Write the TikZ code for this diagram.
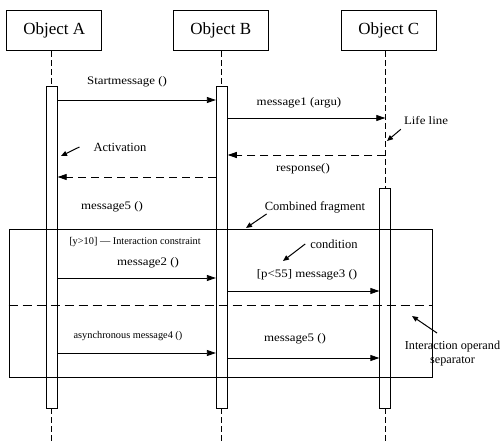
\documentclass[tikz,border=0pt]{standalone}
\usepackage{fontspec}
\setmainfont{Liberation Serif}
\newfontfamily\widefont[FakeStretch=1.12]{Liberation Serif}
\usetikzlibrary{arrows.meta}
\begin{document}
\begin{tikzpicture}[x=1pt,y=-1pt,
  obj/.style={draw, line width=0.9pt, minimum width=95pt, minimum height=40pt, inner sep=0pt, font=\fontsize{17}{17}\selectfont},
  act/.style={draw, line width=0.9pt, minimum width=11pt, inner sep=0pt},
  life/.style={line width=0.7pt, dash pattern=on 6pt off 3pt},
  msg/.style={line width=0.8pt, -{Triangle[length=9pt,width=6pt]}},
  ret/.style={msg, dash pattern=on 8pt off 5pt},
  lbl/.style={inner sep=0pt, font=\widefont\fontsize{11.5}{11.5}\selectfont},
  small/.style={inner sep=0pt, font=\fontsize{10.3}{10.3}\selectfont},
  note/.style={inner sep=0pt, font=\fontsize{12.5}{14}\selectfont},
  ptr/.style={line width=1pt, -{Triangle[length=6pt,width=5pt]}}]
\useasboundingbox (0,0) rectangle (503,441);
% objects and activations
\node[obj] (objA) at (54.2,30.7) {Object A};
\node[obj] (objB) at (220.8,30.7) {Object B};
\node[obj] (objC) at (388.8,30.7) {Object C};
\node[act, minimum height=322pt] (actA) at (51.7,247) {};
\node[act, minimum height=322pt] (actB) at (221.8,247) {};
\node[act, minimum height=220pt] (actC) at (385.3,298) {};
\coordinate (endA) at (51.7,441);
\coordinate (endB) at (221.8,441);
\coordinate (endC) at (385.3,441);
\draw[life] (actA |- objA.south) -- (actA.north);
\draw[life] (actB |- objB.south) -- (actB.north);
\draw[life] (actC |- objC.south) -- (actC.north);
\draw[life] (actA.south) -- (endA);
\draw[life] (actB.south) -- (endB);
\draw[life] (actC.south) -- (endC);
% messages
\node[lbl] (sm) at (127,82) {Startmessage ()};
\draw[msg] (actA.east |- 0,100) -- (actB.west |- 0,100);
\node[lbl] (m1) at (299,103) {message1 (argu)};
\draw[msg] (actB.east |- 0,118) -- (actC |- 0,118);
\node[lbl] (ll) at (426,121) {Life line};
\coordinate (llTip) at (387,141);
\draw[ptr] ([shift={(-3,4)}]ll.south west) -- (llTip);
\draw[ret] (actC |- 0,155) -- (actB.east |- 0,155);
\node[lbl] (rsp) at (303,169) {response()};
\node[note] (av) at (120,147) {Activation};
\coordinate (avTip) at (61,156);
\draw[ptr] ([xshift=-14pt]av.west) -- (avTip);
\draw[ret] (actB.west |- 0,177) -- (actA.east |- 0,177);
\node[lbl] (m5a) at (112,207) {message5 ()};
\node[note] (cf) at (315,207) {Combined fragment};
\coordinate (cfTip) at (246,228);
\draw[ptr] ([shift={(2,1)}]cf.south west) -- (cfTip);
% combined fragment
\node[draw, line width=0.9pt, minimum width=423pt, minimum height=148pt, inner sep=0pt] (frag) at (220.5,303) {};
\draw[line width=0.9pt, dash pattern=on 9pt off 5pt] (frag.west |- 0,305) -- (frag.east |- 0,305);
\node[small] (yc) at (135,242) {[y>10] — Interaction constraint};
\node[lbl] (m2) at (148,263) {message2 ()};
\draw[msg] (actA.east |- 0,278) -- (actB.west |- 0,278);
\node[note] (cond) at (334,244) {condition};
\coordinate (condTip) at (283,261);
\draw[ptr] ([xshift=-5pt]cond.west) -- (condTip);
\node[lbl] (m3) at (307,275) {[p<55] message3 ()};
\draw[msg] (actB.east |- 0,291) -- (actC.west |- 0,291);
\node[small] (m4) at (128,336) {asynchronous message4 ()};
\draw[msg] (actA.east |- 0,353) -- (actB.west |- 0,353);
\node[lbl] (m5b) at (295,339) {message5 ()};
\draw[msg] (actB.east |- 0,358) -- (actC.west |- 0,358);
\node[note, align=center, font=\fontsize{12.2}{14}\selectfont] (ios) at (452.5,354) {Interaction operand\\separator};
\coordinate (iosTip) at (412,316);
\draw[ptr] (437,333) -- (iosTip);
\end{tikzpicture}
\end{document}
